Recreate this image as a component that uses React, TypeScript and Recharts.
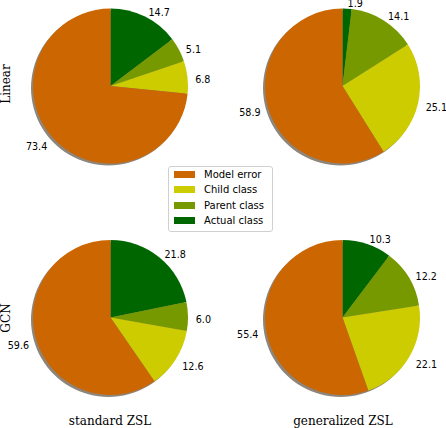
import React from 'react'
import { PieChart, Pie, Cell, Legend } from 'recharts'

// slices go clockwise from 12 o'clock in this order
const categories = ['Actual class', 'Parent class', 'Child class', 'Model error']
const colors = ['#006600', '#779900', '#cccc00', '#cc6600']

const linearStandard = [14.7, 5.1, 6.8, 73.4]
const linearGeneralized = [1.9, 14.1, 25.1, 58.9]
const gcnStandard = [21.8, 6.0, 12.6, 59.6]
const gcnGeneralized = [10.3, 12.2, 22.1, 55.4]

const rowLabels = ['Linear', 'GCN']
const colLabels = ['standard ZSL', 'generalized ZSL']
const legendOrder = ['Model error', 'Child class', 'Parent class', 'Actual class']

const RADIUS = 77.5
const RAD = Math.PI / 180

const panels = [
  { values: linearStandard, cx: 110.5, cy: 86 },
  { values: linearGeneralized, cx: 342.5, cy: 86 },
  { values: gcnStandard, cx: 110.5, cy: 317.5 },
  { values: gcnGeneralized, cx: 342.5, cy: 317.5 },
]

const toRows = (values: number[]) => categories.map((name, i) => ({ name, value: values[i] }))

const renderLabel = (props: any) => {
  const { cx, cy, midAngle, outerRadius, value } = props
  const r = outerRadius * 1.1
  const c = Math.cos(-midAngle * RAD)
  const x = cx + r * c
  const y = cy + r * Math.sin(-midAngle * RAD) + 3
  return (
    <text x={x} y={y} fill="#000" fontSize={9.6} fontFamily="DejaVu Sans"
      textAnchor={c >= 0 ? 'start' : 'end'} dominantBaseline="central">
      {value.toFixed(1)}
    </text>
  )
}

const LegendBox = () => (
  <div style={{
    background: '#fff', border: '1px solid #d0d0d0', borderRadius: 3,
    padding: '0px 5px 3px 5px', width: 93, fontFamily: 'DejaVu Sans', fontSize: 10,
  }}>
    {legendOrder.map(name => (
      <div key={name} style={{ display: 'flex', alignItems: 'center', height: 15.3 }}>
        <span style={{ width: 21, height: 7, background: colors[categories.indexOf(name)], marginRight: 9 }} />
        <span>{name}</span>
      </div>
    ))}
  </div>
)

export default function App() {
  return (
    <div style={{ position: 'absolute', left: 0, top: 0, width: 446, height: 428, background: '#fff' }}>
      <PieChart width={446} height={428} margin={{ top: 0, right: 0, bottom: 0, left: 0 }}>
        {panels.map((p, k) => (
          <Pie key={'s' + k} data={[{ name: 'shadow', value: 1 }]} dataKey="value"
            cx={p.cx - 2} cy={p.cy + 2} outerRadius={RADIUS} fill="#8e857b" stroke="none"
            isAnimationActive={false} legendType="none" />
        ))}
        {panels.map((p, k) => (
          <Pie key={'p' + k} data={toRows(p.values)} dataKey="value" nameKey="name"
            cx={p.cx} cy={p.cy} outerRadius={RADIUS} startAngle={90} endAngle={-270}
            stroke="none" label={renderLabel} labelLine={false} isAnimationActive={false}>
            {categories.map((c, i) => <Cell key={c} fill={colors[i]} />)}
          </Pie>
        ))}
        <Legend content={<LegendBox />} wrapperStyle={{ position: 'absolute', left: 168, top: 166, width: 'auto' }} />
      </PieChart>
      {rowLabels.map((t, i) => (
        <div key={t} style={{
          position: 'absolute', left: 6, top: i === 0 ? 84 : 318, fontFamily: 'DejaVu Serif', fontSize: 12,
          transform: 'translate(-50%, -50%) rotate(-90deg)', whiteSpace: 'nowrap', color: '#000',
        }}>{t}</div>
      ))}
      {colLabels.map((t, i) => (
        <div key={t} style={{
          position: 'absolute', left: i === 0 ? 110 : 343, top: 421, fontFamily: 'DejaVu Serif', fontSize: 12,
          transform: 'translate(-50%, -50%)', whiteSpace: 'nowrap', color: '#000',
        }}>{t}</div>
      ))}
    </div>
  )
}
